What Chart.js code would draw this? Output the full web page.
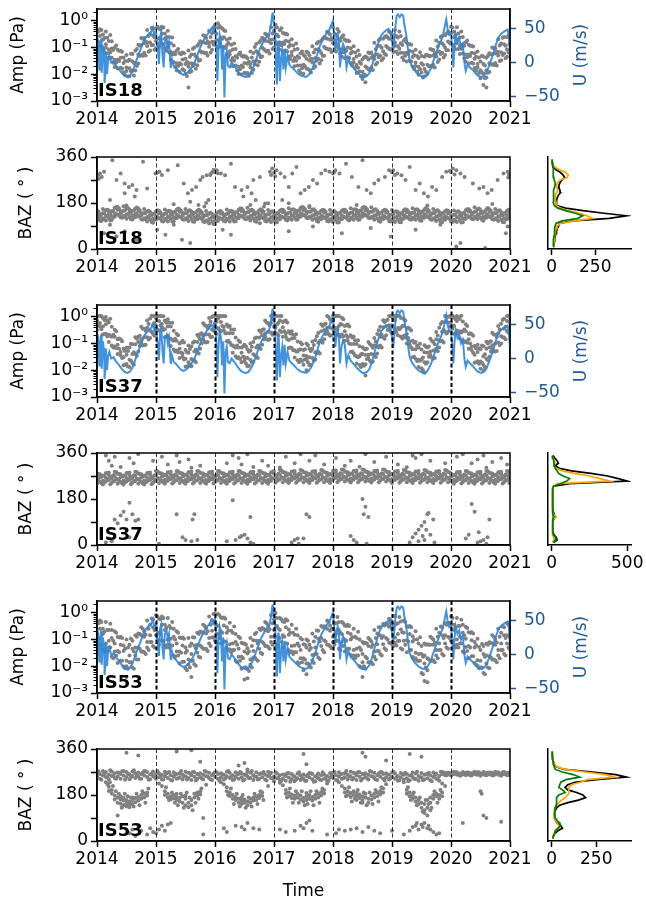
<!DOCTYPE html>
<html>
<head>
<meta charset="utf-8">
<script src="https://cdn.jsdelivr.net/npm/chart.js@4/dist/chart.umd.min.js"></script>
<style>
  body { margin: 0; background: #fff; width: 646px; height: 902px; position: relative; overflow: hidden; }
  canvas { position: absolute; }
</style>
</head>
<body>
<canvas id="amp18" width="646" height="140" style="left:0px;top:0px"></canvas>
<canvas id="baz18" width="646" height="140" style="left:0px;top:148px"></canvas>
<canvas id="side18" width="126" height="140" style="left:520px;top:148px"></canvas>
<canvas id="amp37" width="646" height="140" style="left:0px;top:296px"></canvas>
<canvas id="baz37" width="646" height="140" style="left:0px;top:444px"></canvas>
<canvas id="side37" width="126" height="140" style="left:520px;top:444px"></canvas>
<canvas id="amp53" width="646" height="140" style="left:0px;top:592px"></canvas>
<canvas id="baz53" width="646" height="162" style="left:0px;top:740px"></canvas>
<canvas id="side53" width="126" height="140" style="left:520px;top:740px"></canvas>
<script>
// --- axis ticks / labels ---
const yearTicks = [0, 1, 2, 3, 4, 5, 6, 7];
const yearLabels = ['2014', '2015', '2016', '2017', '2018', '2019', '2020', '2021'];
const dashedYears = [1, 2, 3, 4, 5, 6];
const ampTicks = [0.001, 0.01, 0.1, 1];
const ampTickLabels = ['10⁻³', '10⁻²', '10⁻¹', '10⁰'];
const ampMinorTicks = [0.002, 0.003, 0.004, 0.005, 0.006, 0.007, 0.008, 0.009, 0.02, 0.03, 0.04, 0.05, 0.06, 0.07, 0.08, 0.09,
  0.2, 0.3, 0.4, 0.5, 0.6, 0.7, 0.8, 0.9, 2];
const uTicks = [-50, 0, 50];
const bazTicks = [0, 90, 180, 270, 360];
const bazTickLabels = ['0', '', '180', '', '360'];
const stations = ['IS18', 'IS37', 'IS53'];

// --- zonal wind U (m/s), [years since 2014, U] ---
const uWind = [
  [0.00,38],[0.02,30],[0.04,-10],[0.05,20],[0.07,35],[0.08,-15],[0.10,25],[0.12,10],[0.13,-30],[0.15,15],[0.17,-17],[0.19,5],[0.21,10],[0.24,0],[0.28,2],[0.32,-4],[0.36,-8],[0.40,-13],[0.44,-17],[0.48,-20],[0.52,-21],[0.56,-19],[0.60,-13],[0.64,-4],[0.68,6],[0.72,15],[0.76,24],[0.80,33],[0.84,38],[0.88,42],[0.92,45],[0.95,51],[0.97,40],
  [1.00,45],[1.03,20],[1.05,-2],[1.07,38],[1.09,44],[1.11,10],[1.13,-7],[1.15,30],[1.18,35],[1.20,22],[1.22,30],[1.25,-8],[1.27,5],[1.30,-5],[1.34,-8],[1.38,-12],[1.42,-16],[1.46,-18],[1.50,-17],[1.54,-14],[1.58,-10],[1.62,-5],[1.66,2],[1.70,10],[1.74,20],[1.78,28],[1.82,35],[1.86,40],[1.90,44],[1.94,50],[1.97,45],
  [2.00,52],[2.02,30],[2.04,-27],[2.06,20],[2.08,40],[2.10,32],[2.12,-10],[2.14,25],[2.16,-51],[2.18,10],[2.20,17],[2.22,-5],[2.25,-7],[2.28,0],[2.32,-4],[2.36,-9],[2.40,-14],[2.44,-18],[2.48,-20],[2.52,-21],[2.56,-20],[2.60,-15],[2.64,-9],[2.68,0],[2.72,10],[2.76,20],[2.80,27],[2.84,33],[2.88,38],[2.92,42],[2.95,55],[2.97,70],[2.98,73],
  [3.00,55],[3.02,46],[3.04,-20],[3.05,-32],[3.07,30],[3.08,32],[3.10,-27],[3.12,5],[3.14,17],[3.16,-10],[3.18,20],[3.20,-7],[3.23,10],[3.26,-3],[3.30,-7],[3.34,-10],[3.38,-14],[3.42,-17],[3.46,-19],[3.50,-20],[3.54,-21],[3.58,-19],[3.62,-14],[3.66,-7],[3.70,2],[3.74,14],[3.78,25],[3.82,32],[3.86,38],[3.90,44],[3.94,48],[3.97,55],
  [4.00,61],[4.02,40],[4.04,17],[4.06,35],[4.08,41],[4.10,30],[4.12,-7],[4.14,15],[4.17,27],[4.20,20],[4.23,-7],[4.26,5],[4.30,-3],[4.34,-7],[4.38,-11],[4.42,-15],[4.46,-18],[4.50,-21],[4.54,-21],[4.58,-19],[4.62,-15],[4.66,-5],[4.70,8],[4.74,20],[4.78,32],[4.82,40],[4.86,44],[4.90,47],[4.94,49],[4.97,45],
  [5.00,32],[5.02,15],[5.04,35],[5.06,55],[5.08,68],[5.10,70],[5.13,66],[5.16,70],[5.19,68],[5.21,55],[5.24,41],[5.27,20],[5.30,2],[5.34,-6],[5.38,-11],[5.42,-15],[5.46,-18],[5.50,-20],[5.54,-21],[5.58,-20],[5.62,-15],[5.66,-8],[5.70,2],[5.74,12],[5.78,22],[5.82,30],[5.86,38],[5.90,55],[5.92,63],[5.94,50],[5.97,40],
  [6.00,41],[6.02,20],[6.04,-7],[6.06,25],[6.08,41],[6.11,30],[6.14,35],[6.17,22],[6.20,27],[6.23,-2],[6.25,-12],[6.28,-3],[6.32,-7],[6.36,-10],[6.40,-14],[6.44,-18],[6.48,-20],[6.52,-21],[6.56,-19],[6.60,-15],[6.64,-6],[6.68,4],[6.72,14],[6.76,26],[6.80,36],[6.84,41],[6.88,44],[6.92,46],[6.96,48],[6.98,40],[7.00,15]
];

// --- amplitudes, [years since 2014, log10(Pa) ...] ---
const amp18Log = [
  [0.00,-0.38,-0.75,-1.08],[0.05,-0.58,-0.95,-0.32],[0.10,-1.07,-0.72,-0.52],[0.15,-0.41,-1.01,-0.88],[0.20,-1.38,-0.76,-1.08],[0.25,-1.04,-0.77,-1.39],[0.30,-1.46,-1.00,-1.73],[0.35,-1.09,-1.46,-1.79],[0.40,-1.39,-1.76,-1.13],[0.45,-1.93,-1.58,-1.38],[0.50,-1.28,-1.88,-1.75],[0.55,-2.08,-1.46,-1.78],[0.60,-1.52,-1.25,-1.87],[0.65,-1.59,-1.13,-1.86],[0.70,-0.90,-1.27,-1.60],[0.75,-0.91,-1.28,-0.65],[0.80,-1.20,-0.85,-0.65],[0.85,-0.35,-0.95,-0.82],[0.90,-1.12,-0.50,-0.82],[0.95,-0.56,-0.29,-0.91],
  [1.00,-0.76,-0.30,-1.03],[1.05,-0.29,-0.66,-0.99],[1.10,-0.49,-0.86,-0.23],[1.15,-1.03,-0.68,-0.48],[1.20,-0.38,-0.98,-0.85],[1.25,-1.47,-0.85,-1.17],[1.30,-1.20,-0.93,-1.55],[1.35,-1.59,-1.13,-1.86],[1.40,-1.22,-1.59,-1.92],[1.45,-1.45,-1.82,-1.19],[1.50,-1.97,-1.62,-1.42],[1.55,-1.12,-1.72,-1.59,-2.50],[1.60,-1.89,-1.27,-1.59],[1.65,-1.27,-1.00,-1.62],[1.70,-1.40,-0.94,-1.67],[1.75,-0.77,-1.14,-1.47],[1.80,-0.81,-1.18,-0.55],[1.85,-1.20,-0.85,-0.65],[1.90,-0.38,-0.98,-0.85],[1.95,-1.09,-0.47,-0.79],
  [2.00,-0.43,-0.16,-0.78],[2.05,-0.73,-0.27,-1.00,-0.10],[2.10,-0.26,-0.63,-0.96],[2.15,-0.62,-0.99,-0.36],[2.20,-1.26,-0.91,-0.71],[2.25,-0.67,-1.27,-1.14],[2.30,-1.70,-1.08,-1.40],[2.35,-1.33,-1.06,-1.68],[2.40,-1.72,-1.26,-1.99],[2.45,-1.31,-1.68,-2.01],[2.50,-1.58,-1.95,-1.32],[2.55,-1.96,-1.61,-1.41],[2.60,-1.15,-1.75,-1.62],[2.65,-1.83,-1.21,-1.53],[2.70,-1.14,-0.87,-1.49],[2.75,-1.27,-0.81,-1.54],[2.80,-0.64,-1.01,-1.34],[2.85,-0.75,-1.12,-0.49],[2.90,-1.13,-0.78,-0.58],[2.95,-0.25,-0.85,-0.72],
  [3.00,-1.00,-0.38,-0.70],[3.05,-0.53,-0.26,-0.88],[3.10,-0.82,-0.36,-1.09],[3.15,-0.45,-0.82,-1.15],[3.20,-0.75,-1.12,-0.49],[3.25,-1.33,-0.98,-0.78],[3.30,-0.70,-1.30,-1.17],[3.35,-1.70,-1.08,-1.40],[3.40,-1.33,-1.06,-1.68],[3.45,-1.68,-1.22,-1.95],[3.50,-1.28,-1.65,-1.98],[3.55,-1.42,-1.79,-1.16],[3.60,-1.84,-1.49,-1.29],[3.65,-0.96,-1.56,-1.43],[3.70,-1.70,-1.08,-1.40],[3.75,-1.07,-0.80,-1.42],[3.80,-1.21,-0.75,-1.48],[3.85,-0.61,-0.98,-1.31],[3.90,-0.68,-1.05,-0.42],[3.95,-1.07,-0.72,-0.52],
  [4.00,-0.25,-0.85,-0.72],[4.05,-1.15,-0.53,-0.85],[4.10,-0.69,-0.42,-1.04],[4.15,-1.08,-0.62,-1.35],[4.20,-0.71,-1.08,-1.41],[4.25,-1.00,-1.37,-0.74],[4.30,-1.58,-1.23,-1.03],[4.35,-0.96,-1.56,-1.43],[4.40,-1.96,-1.34,-1.66],[4.45,-1.55,-1.28,-1.90],[4.50,-1.91,-1.45,-2.18],[4.55,-1.34,-1.71,-2.04,-2.30],[4.60,-1.45,-1.82,-1.19],[4.65,-1.74,-1.39,-1.19],[4.70,-0.83,-1.43,-1.30],[4.75,-1.57,-0.95,-1.27],[4.80,-0.95,-0.68,-1.30],[4.85,-1.14,-0.68,-1.41],[4.90,-0.58,-0.95,-1.28],[4.95,-0.68,-1.05,-0.42],
  [5.00,-1.07,-0.72,-0.52],[5.05,-0.35,-0.95,-0.82],[5.10,-1.25,-0.63,-0.95],[5.15,-0.85,-0.58,-1.20],[5.20,-1.21,-0.75,-1.48],[5.25,-0.83,-1.20,-1.53],[5.30,-1.13,-1.50,-0.87],[5.35,-1.71,-1.36,-1.16],[5.40,-1.09,-1.69,-1.56],[5.45,-2.02,-1.40,-1.72],[5.50,-1.59,-1.32,-1.94],[5.55,-1.81,-1.35,-2.08],[5.60,-1.28,-1.65,-1.98],[5.65,-1.32,-1.69,-1.06],[5.70,-1.65,-1.30,-1.10],[5.75,-0.74,-1.34,-1.21],[5.80,-1.45,-0.83,-1.15],[5.85,-0.85,-0.58,-1.20],[5.90,-1.01,-0.55,-1.28],[5.95,-0.41,-0.78,-1.11],
  [6.00,-0.49,-0.86,-0.23],[6.05,-0.97,-0.62,-0.42],[6.10,-0.25,-0.85,-0.72],[6.15,-1.25,-0.63,-0.95],[6.20,-0.88,-0.61,-1.23],[6.25,-1.27,-0.81,-1.54],[6.30,-0.90,-1.27,-1.60],[6.35,-1.20,-1.57,-0.94],[6.40,-1.77,-1.42,-1.22],[6.45,-1.15,-1.75,-1.62],[6.50,-2.15,-1.53,-1.85],[6.55,-1.62,-1.35,-1.97,-2.40],[6.60,-1.85,-1.39,-2.12,-2.50],[6.65,-1.22,-1.59,-1.92],[6.70,-1.26,-1.63,-1.00],[6.75,-1.58,-1.23,-1.03],[6.80,-0.70,-1.30,-1.17],[6.85,-1.48,-0.86,-1.18],[6.90,-0.88,-0.61,-1.23],[6.95,-1.08,-0.62,-1.35],[6.99,-0.51,-0.88,-1.21]
];
const amp18LogHalf = [
  [0.025,-0.80,-0.42],[0.075,-0.35,-0.98],[0.125,-1.17,-0.65],[0.175,-0.64,-1.22],[0.225,-1.18,-0.54],[0.275,-1.10,-1.57],[0.325,-1.56,-0.93],[0.375,-1.51,-1.13],[0.425,-1.16,-1.79],[0.475,-2.03,-1.51],[0.525,-1.51,-2.09],[0.575,-1.88,-1.24],[0.625,-1.58,-2.05],[0.675,-1.69,-1.06],[0.725,-1.32,-0.94],[0.775,-0.68,-1.31],[0.825,-1.30,-0.78],[0.875,-0.58,-1.16],[0.925,-0.92,-0.28],[0.975,-0.62,-1.09],
  [1.025,-0.86,-0.23],[1.075,-0.71,-0.33],[1.125,-0.26,-0.89],[1.175,-1.13,-0.61],[1.225,-0.61,-1.19],[1.275,-1.27,-0.63],[1.325,-1.26,-1.73],[1.375,-1.69,-1.06],[1.425,-1.64,-1.26],[1.475,-1.22,-1.85],[1.525,-2.07,-1.55],[1.575,-1.35,-1.93],[1.625,-1.69,-1.05],[1.675,-1.33,-1.80],[1.725,-1.50,-0.87],[1.775,-1.19,-0.81],[1.825,-0.58,-1.21],[1.875,-1.30,-0.78],[1.925,-0.61,-1.19],[1.975,-0.89,-0.25],
  [2.025,-0.49,-0.96],[2.075,-0.83,-0.20],[2.125,-0.68,-0.30],[2.175,-0.39,-1.02],[2.225,-1.36,-0.84],[2.275,-0.90,-1.48],[2.325,-1.50,-0.86],[2.375,-1.39,-1.86],[2.425,-1.82,-1.19],[2.475,-1.73,-1.35],[2.525,-1.35,-1.98],[2.575,-2.06,-1.54],[2.625,-1.38,-1.96],[2.675,-1.63,-0.99],[2.725,-1.20,-1.67],[2.775,-1.37,-0.74],[2.825,-1.06,-0.68],[2.875,-0.52,-1.15],[2.925,-1.23,-0.71],[2.975,-0.48,-1.06],
  [3.025,-0.80,-0.16],[3.075,-0.59,-1.06],[3.125,-0.92,-0.29],[3.175,-0.87,-0.49],[3.225,-0.52,-1.15],[3.275,-1.43,-0.91],[3.325,-0.93,-1.51],[3.375,-1.50,-0.86],[3.425,-1.39,-1.86],[3.475,-1.78,-1.15],[3.525,-1.70,-1.32],[3.575,-1.19,-1.82],[3.625,-1.94,-1.42],[3.675,-1.19,-1.77],[3.725,-1.50,-0.86],[3.775,-1.13,-1.60],[3.825,-1.31,-0.68],[3.875,-1.03,-0.65],[3.925,-0.45,-1.08],[3.975,-1.17,-0.65],
  [4.025,-0.48,-1.06],[4.075,-0.95,-0.31],[4.125,-0.75,-1.22],[4.175,-1.18,-0.55],[4.225,-1.13,-0.75],[4.275,-0.77,-1.40],[4.325,-1.68,-1.16],[4.375,-1.19,-1.77],[4.425,-1.76,-1.12],[4.475,-1.61,-2.08],[4.525,-2.01,-1.38],[4.575,-1.76,-1.38],[4.625,-1.22,-1.85],[4.675,-1.84,-1.32],[4.725,-1.06,-1.64],[4.775,-1.37,-0.73],[4.825,-1.01,-1.48],[4.875,-1.24,-0.61],[4.925,-1.00,-0.62],[4.975,-0.45,-1.08],
  [5.025,-1.17,-0.65],[5.075,-0.58,-1.16],[5.125,-1.05,-0.41],[5.175,-0.91,-1.38],[5.225,-1.31,-0.68],[5.275,-1.25,-0.87],[5.325,-0.90,-1.53],[5.375,-1.81,-1.29],[5.425,-1.32,-1.90],[5.475,-1.82,-1.18],[5.525,-1.65,-2.12],[5.575,-1.91,-1.28],[5.625,-1.70,-1.32],[5.675,-1.09,-1.72],[5.725,-1.75,-1.23],[5.775,-0.97,-1.55],[5.825,-1.25,-0.61],[5.875,-0.91,-1.38],[5.925,-1.11,-0.48],[5.975,-0.83,-0.45],
  [6.025,-0.26,-0.89],[6.075,-1.07,-0.55],[6.125,-0.48,-1.06],[6.175,-1.05,-0.41],[6.225,-0.94,-1.41],[6.275,-1.37,-0.74],[6.325,-1.32,-0.94],[6.375,-0.97,-1.60],[6.425,-1.87,-1.35],[6.475,-1.38,-1.96],[6.525,-1.95,-1.31],[6.575,-1.68,-2.15],[6.625,-1.95,-1.32],[6.675,-1.64,-1.26],[6.725,-1.03,-1.66],[6.775,-1.68,-1.16],[6.825,-0.93,-1.51],[6.875,-1.28,-0.64],[6.925,-0.94,-1.41],[6.975,-1.18,-0.55]
];
const amp37Log = [
  [0.00,-0.50,-0.15,0.03],[0.05,0.02,-0.37,-0.24],[0.10,-0.67,-0.05,-0.37],[0.15,-0.29,-0.02,-0.64],[0.20,-0.68,-0.22,-0.95],[0.25,-0.38,-0.75,-1.08],[0.30,-0.75,-1.12,-0.49],[0.35,-1.40,-1.05,-0.85],[0.40,-0.85,-1.45,-1.32],[0.45,-1.82,-1.20,-1.52],[0.50,-1.42,-1.15,-1.77],[0.55,-1.61,-1.15,-1.88],[0.60,-1.03,-1.40,-1.73],[0.65,-1.03,-1.40,-0.77],[0.70,-1.30,-0.95,-0.75],[0.75,-0.38,-0.98,-0.85],[0.80,-1.07,-0.45,-0.77],[0.85,-0.42,-0.15,-0.77],[0.90,-0.53,-0.07,-0.80],[0.95,0.02,-0.32,-0.65],
  [1.00,-0.05,-0.42,0.03],[1.05,-0.52,-0.17,0.02],[1.10,0.01,-0.40,-0.27],[1.15,-0.77,-0.15,-0.47],[1.20,-0.37,-0.10,-0.72],[1.25,-0.83,-0.37,-1.10],[1.30,-0.53,-0.90,-1.23],[1.35,-0.90,-1.27,-0.64],[1.40,-1.55,-1.20,-1.00],[1.45,-0.90,-1.50,-1.37],[1.50,-1.87,-1.25,-1.57],[1.55,-1.35,-1.08,-1.70],[1.60,-1.58,-1.12,-1.85],[1.65,-0.93,-1.30,-1.63],[1.70,-0.95,-1.32,-0.69],[1.75,-1.20,-0.85,-0.65],[1.80,-0.25,-0.85,-0.72],[1.85,-0.97,-0.35,-0.67],[1.90,-0.32,-0.05,-0.67],[1.95,-0.48,-0.02,-0.75],
  [2.00,0.03,-0.25,-0.58],[2.05,-0.07,-0.44,0.02],[2.10,-0.55,-0.20,0.00],[2.15,0.02,-0.52,-0.39],[2.20,-0.92,-0.30,-0.62],[2.25,-0.62,-0.35,-0.97],[2.30,-1.08,-0.62,-1.35],[2.35,-0.78,-1.15,-1.48],[2.40,-1.15,-1.52,-0.89],[2.45,-1.70,-1.35,-1.15],[2.50,-1.05,-1.65,-1.52],[2.55,-1.85,-1.23,-1.55],[2.60,-1.27,-1.00,-1.62],[2.65,-1.41,-0.95,-1.68],[2.70,-0.78,-1.15,-1.48],[2.75,-0.78,-1.15,-0.52],[2.80,-1.05,-0.70,-0.50],[2.85,-0.15,-0.75,-0.62],[2.90,-0.87,-0.25,-0.57],[2.95,-0.24,0.02,-0.59],
  [3.00,-0.38,0.03,-0.65],[3.05,0.02,-0.30,-0.63],[3.10,-0.15,-0.52,0.02],[3.15,-0.75,-0.40,-0.20],[3.20,-0.15,-0.75,-0.62],[3.25,-1.17,-0.55,-0.87],[3.30,-0.82,-0.55,-1.17],[3.35,-1.26,-0.80,-1.53],[3.40,-0.93,-1.30,-1.63],[3.45,-1.23,-1.60,-0.97],[3.50,-1.80,-1.45,-1.25],[3.55,-1.00,-1.60,-1.47,-2.00],[3.60,-1.82,-1.20,-1.52],[3.65,-1.20,-0.93,-1.55],[3.70,-1.33,-0.87,-1.60],[3.75,-0.61,-0.98,-1.31],[3.80,-0.55,-0.92,-0.29],[3.85,-0.85,-0.50,-0.30],[3.90,0.02,-0.55,-0.42],[3.95,-0.72,-0.10,-0.42],
  [4.00,-0.12,0.03,-0.47],[4.05,-0.43,0.02,-0.70],[4.10,0.02,-0.35,-0.68],[4.15,-0.30,-0.67,-0.04],[4.20,-0.90,-0.55,-0.35],[4.25,-0.30,-0.90,-0.77],[4.30,-1.32,-0.70,-1.02],[4.35,-1.02,-0.75,-1.37],[4.40,-1.48,-1.02,-1.75],[4.45,-1.11,-1.48,-1.81],[4.50,-1.40,-1.77,-1.14],[4.55,-1.78,-1.43,-1.23,-2.20],[4.60,-0.95,-1.55,-1.42],[4.65,-1.70,-1.08,-1.40],[4.70,-1.07,-0.80,-1.42],[4.75,-1.11,-0.65,-1.38],[4.80,-0.38,-0.75,-1.08],[4.85,-0.40,-0.77,-0.14],[4.90,-0.70,-0.35,-0.15],[4.95,0.02,-0.45,-0.32],
  [5.00,-0.62,0.00,-0.32],[5.05,-0.14,0.03,-0.49],[5.10,-0.43,0.03,-0.70],[5.15,-0.05,-0.42,-0.75],[5.20,-0.35,-0.72,-0.09],[5.25,-1.00,-0.65,-0.45],[5.30,-0.45,-1.05,-0.92],[5.35,-1.52,-0.90,-1.22],[5.40,-1.22,-0.95,-1.57],[5.45,-1.61,-1.15,-1.88],[5.50,-1.23,-1.60,-1.93],[5.55,-1.33,-1.70,-1.07,-2.10],[5.60,-1.70,-1.35,-1.15],[5.65,-0.83,-1.43,-1.30],[5.70,-1.57,-0.95,-1.27],[5.75,-0.85,-0.58,-1.20],[5.80,-0.88,-0.42,-1.15],[5.85,-0.20,-0.57,-0.90],[5.90,-0.20,-0.57,0.02],[5.95,-0.57,-0.22,-0.02],
  [6.00,0.03,-0.35,-0.22],[6.05,-0.64,-0.02,-0.34],[6.10,-0.17,0.02,-0.52],[6.15,-0.55,-0.09,-0.82],[6.20,-0.18,-0.55,-0.88],[6.25,-0.55,-0.92,-0.29],[6.30,-1.20,-0.85,-0.65],[6.35,-0.65,-1.25,-1.12],[6.40,-1.72,-1.10,-1.42],[6.45,-1.32,-1.05,-1.67],[6.50,-1.68,-1.22,-1.95],[6.55,-1.11,-1.48,-1.81,-2.00],[6.60,-1.20,-1.57,-0.94],[6.65,-1.50,-1.15,-0.95],[6.70,-0.60,-1.20,-1.07],[6.75,-1.30,-0.68,-1.00],[6.80,-0.62,-0.35,-0.97],[6.85,-0.73,-0.27,-1.00],[6.90,-0.08,-0.45,-0.78],[6.95,-0.17,-0.54,0.02],[6.99,-0.55,-0.20,-0.02]
];
const amp37LogHalf = [
  [0.025,-0.30,0.03],[0.075,0.02,-0.47],[0.125,-0.65,-0.13],[0.175,-0.15,-0.73],[0.225,-0.72,-0.08],[0.275,-0.68,-1.15],[0.325,-1.18,-0.55],[0.375,-1.20,-0.82],[0.425,-0.92,-1.55],[0.475,-1.80,-1.28],[0.525,-1.28,-1.86],[0.575,-1.65,-1.01],[0.625,-1.33,-1.80],[0.675,-1.46,-0.83],[0.725,-1.10,-0.72],[0.775,-0.45,-1.08],[0.825,-1.05,-0.53],[0.875,-0.28,-0.86],[0.925,-0.57,0.03],[0.975,-0.25,-0.72],
  [1.025,-0.48,0.02],[1.075,-0.32,0.03],[1.125,0.01,-0.50],[1.175,-0.75,-0.23],[1.225,-0.23,-0.81],[1.275,-0.87,-0.23],[1.325,-0.83,-1.30],[1.375,-1.33,-0.70],[1.425,-1.35,-0.97],[1.475,-0.97,-1.60],[1.525,-1.85,-1.33],[1.575,-1.21,-1.79],[1.625,-1.62,-0.98],[1.675,-1.23,-1.70],[1.725,-1.38,-0.75],[1.775,-1.00,-0.62],[1.825,-0.32,-0.95],[1.875,-0.95,-0.43],[1.925,-0.18,-0.76],[1.975,-0.52,0.03],
  [2.025,-0.18,-0.65],[2.075,-0.50,0.02],[2.125,-0.35,0.02],[2.175,0.01,-0.62],[2.225,-0.90,-0.38],[2.275,-0.48,-1.06],[2.325,-1.12,-0.48],[2.375,-1.08,-1.55],[2.425,-1.58,-0.95],[2.475,-1.50,-1.12],[2.525,-1.12,-1.75],[2.575,-1.83,-1.31],[2.625,-1.13,-1.71],[2.675,-1.45,-0.81],[2.725,-1.08,-1.55],[2.775,-1.21,-0.58],[2.825,-0.85,-0.47],[2.875,-0.22,-0.85],[2.925,-0.85,-0.33],[2.975,-0.10,-0.68],
  [3.025,-0.42,0.03],[3.075,-0.23,-0.70],[3.125,-0.58,0.02],[3.175,-0.55,-0.17],[3.225,-0.22,-0.85],[3.275,-1.15,-0.63],[3.325,-0.68,-1.26],[3.375,-1.30,-0.66],[3.425,-1.23,-1.70],[3.475,-1.66,-1.03],[3.525,-1.60,-1.22],[3.575,-1.07,-1.70],[3.625,-1.80,-1.28],[3.675,-1.06,-1.64],[3.725,-1.37,-0.73],[3.775,-0.91,-1.38],[3.825,-0.98,-0.35],[3.875,-0.65,-0.27],[3.925,-0.02,-0.65],[3.975,-0.70,-0.18],
  [4.025,0.02,-0.56],[4.075,-0.47,0.03],[4.125,-0.28,-0.75],[4.175,-0.73,-0.10],[4.225,-0.70,-0.32],[4.275,-0.37,-1.00],[4.325,-1.30,-0.78],[4.375,-0.88,-1.46],[4.425,-1.52,-0.88],[4.475,-1.41,-1.88],[4.525,-1.83,-1.20],[4.575,-1.58,-1.20],[4.625,-1.02,-1.65],[4.675,-1.68,-1.16],[4.725,-0.93,-1.51],[4.775,-1.15,-0.51],[4.825,-0.68,-1.15],[4.875,-0.83,-0.20],[4.925,-0.50,-0.12],[4.975,0.03,-0.55],
  [5.025,-0.60,-0.08],[5.075,0.00,-0.58],[5.125,-0.47,0.02],[5.175,-0.35,-0.82],[5.225,-0.78,-0.15],[5.275,-0.80,-0.42],[5.325,-0.52,-1.15],[5.375,-1.50,-0.98],[5.425,-1.08,-1.66],[5.475,-1.65,-1.01],[5.525,-1.53,-2.00],[5.575,-1.76,-1.13],[5.625,-1.50,-1.12],[5.675,-0.90,-1.53],[5.725,-1.55,-1.03],[5.775,-0.71,-1.29],[5.825,-0.92,-0.28],[5.875,-0.50,-0.97],[5.925,-0.63,0.00],[5.975,-0.37,0.01],
  [6.025,0.03,-0.45],[6.075,-0.62,-0.10],[6.125,-0.03,-0.61],[6.175,-0.59,0.03],[6.225,-0.48,-0.95],[6.275,-0.98,-0.35],[6.325,-1.00,-0.62],[6.375,-0.72,-1.35],[6.425,-1.70,-1.18],[6.475,-1.18,-1.76],[6.525,-1.72,-1.08],[6.575,-1.41,-1.88],[6.625,-1.63,-1.00],[6.675,-1.30,-0.92],[6.725,-0.67,-1.30],[6.775,-1.28,-0.76],[6.825,-0.48,-1.06],[6.875,-0.77,-0.13],[6.925,-0.38,-0.85],[6.975,-0.60,0.03]
];
const amp53Log = [
  [0.00,-0.38,-0.90,-1.35],[0.05,-1.20,-0.60,-0.30],[0.10,-0.80,-1.38,-0.60],[0.15,-1.15,-0.35,-1.35],[0.20,-0.65,-1.30,-1.05],[0.25,-1.65,-0.95,-0.65],[0.30,-1.15,-1.45,-0.70],[0.35,-0.91,-1.43,-1.88],[0.40,-1.80,-1.20,-0.90],[0.45,-1.43,-2.01,-1.23],[0.50,-1.80,-1.00,-2.00,-2.40],[0.55,-1.20,-1.85,-1.60],[0.60,-2.05,-1.35,-1.05],[0.65,-1.30,-1.60,-0.85],[0.70,-0.78,-1.30,-1.75],[0.75,-1.45,-0.85,-0.55],[0.80,-0.90,-1.48,-0.70],[0.85,-1.10,-0.30,-1.30],[0.90,-0.45,-1.10,-0.85],[0.95,-1.25,-0.55,-0.25],
  [1.00,-0.55,-0.85,-0.10],[1.05,-0.23,-0.75,-1.20],[1.10,-1.05,-0.45,-0.15],[1.15,-0.65,-1.23,-0.45],[1.20,-1.00,-0.20,-1.20],[1.25,-0.58,-1.23,-0.98],[1.30,-1.60,-0.90,-0.60],[1.35,-1.15,-1.45,-0.70],[1.40,-0.93,-1.45,-1.90],[1.45,-1.83,-1.23,-0.93],[1.50,-1.50,-2.08,-1.30],[1.55,-1.75,-0.95,-1.95],[1.60,-1.15,-1.80,-1.55,-2.40],[1.65,-1.93,-1.23,-0.93],[1.70,-1.20,-1.50,-0.75],[1.75,-0.71,-1.23,-1.68],[1.80,-1.35,-0.75,-0.45],[1.85,-0.78,-1.36,-0.58],[1.90,-0.95,-0.15,-1.15],[1.95,-0.28,-0.93,-0.68],
  [2.00,-1.05,-0.35,-0.05],[2.05,-0.50,-0.80,-0.05],[2.10,-0.18,-0.70,-1.15],[2.15,-1.08,-0.48,-0.18],[2.20,-0.75,-1.33,-0.55],[2.25,-1.18,-0.38,-1.38],[2.30,-0.75,-1.40,-1.15],[2.35,-1.80,-1.10,-0.80],[2.40,-1.35,-1.65,-0.90],[2.45,-1.13,-1.65,-2.10],[2.50,-2.05,-1.45,-1.15,-2.50],[2.55,-1.53,-2.11,-1.33,-2.45],[2.60,-1.75,-0.95,-1.95],[2.65,-1.03,-1.68,-1.43],[2.70,-1.75,-1.05,-0.75],[2.75,-1.05,-1.35,-0.60],[2.80,-0.58,-1.10,-1.55],[2.85,-1.25,-0.65,-0.35],[2.90,-0.70,-1.28,-0.50],[2.95,-0.90,-0.10,-1.10],
  [3.00,-0.25,-0.90,-0.65],[3.05,-1.20,-0.50,-0.20],[3.10,-0.65,-0.95,-0.20],[3.15,-0.33,-0.85,-1.30],[3.20,-1.15,-0.55,-0.25],[3.25,-0.83,-1.41,-0.63],[3.30,-1.25,-0.45,-1.45],[3.35,-0.83,-1.48,-1.23],[3.40,-1.85,-1.15,-0.85],[3.45,-1.40,-1.70,-0.95],[3.50,-1.18,-1.70,-2.15],[3.55,-1.90,-1.30,-1.00,-2.30],[3.60,-1.40,-1.98,-1.20],[3.65,-1.58,-0.78,-1.78],[3.70,-0.90,-1.55,-1.30],[3.75,-1.68,-0.98,-0.68],[3.80,-0.95,-1.25,-0.50],[3.85,-0.51,-1.03,-1.48],[3.90,-1.20,-0.60,-0.30],[3.95,-0.68,-1.26,-0.48],
  [4.00,-0.90,-0.10,-1.10],[4.05,-0.40,-1.05,-0.80],[4.10,-1.35,-0.65,-0.35],[4.15,-0.80,-1.10,-0.35],[4.20,-0.48,-1.00,-1.45],[4.25,-1.35,-0.75,-0.45],[4.30,-1.00,-1.58,-0.80],[4.35,-1.40,-0.60,-1.60],[4.40,-0.95,-1.60,-1.35],[4.45,-2.00,-1.30,-1.00],[4.50,-1.55,-1.85,-1.10,-2.40],[4.55,-1.13,-1.65,-2.10],[4.60,-1.85,-1.25,-0.95],[4.65,-1.28,-1.86,-1.08],[4.70,-1.45,-0.65,-1.65],[4.75,-0.78,-1.43,-1.18],[4.80,-1.55,-0.85,-0.55],[4.85,-0.88,-1.18,-0.43],[4.90,-0.43,-0.95,-1.40],[4.95,-1.13,-0.53,-0.23],
  [5.00,-0.60,-1.18,-0.40],[5.05,-0.93,-0.13,-1.13],[5.10,-0.40,-1.05,-0.80],[5.15,-1.33,-0.63,-0.33],[5.20,-0.75,-1.05,-0.30],[5.25,-0.51,-1.03,-1.48],[5.30,-1.40,-0.80,-0.50],[5.35,-1.08,-1.66,-0.88],[5.40,-1.50,-0.70,-1.70],[5.45,-1.15,-1.80,-1.55],[5.50,-2.25,-1.55,-1.25],[5.55,-1.60,-1.90,-1.15,-2.55],[5.60,-1.18,-1.70,-2.15,-2.60],[5.65,-1.80,-1.20,-0.90],[5.70,-1.20,-1.78,-1.00],[5.75,-1.40,-0.60,-1.60],[5.80,-0.75,-1.40,-1.15],[5.85,-1.55,-0.85,-0.55],[5.90,-0.85,-1.15,-0.40],[5.95,-0.38,-0.90,-1.35],
  [6.00,-1.05,-0.45,-0.15],[6.05,-0.65,-1.23,-0.45],[6.10,-1.00,-0.20,-1.20],[6.15,-0.50,-1.15,-0.90],[6.20,-1.45,-0.75,-0.45],[6.25,-0.98,-1.28,-0.53],[6.30,-0.73,-1.25,-1.70],[6.35,-1.63,-1.03,-0.73],[6.40,-1.30,-1.88,-1.10],[6.45,-1.78,-0.98,-1.98],[6.50,-1.40,-2.05,-1.80],[6.55,-2.25,-1.55,-1.25],[6.60,-1.60,-1.90,-1.15],[6.65,-1.11,-1.63,-2.08],[6.70,-1.75,-1.15,-0.85],[6.75,-1.20,-1.78,-1.00],[6.80,-1.40,-0.60,-1.60],[6.85,-0.75,-1.40,-1.15],[6.90,-1.55,-0.85,-0.55],[6.95,-0.85,-1.15,-0.40],[6.99,-0.38,-0.90,-1.35]
];
const amp53LogHalf = [
  [0.025,-0.95,-0.40],[0.075,-0.35,-1.20],[0.125,-1.45,-0.72],[0.175,-0.65,-1.45],[0.225,-1.30,-0.42],[0.275,-1.05,-1.70],[0.325,-1.60,-0.75],[0.375,-1.48,-0.93],[0.425,-0.95,-1.80],[0.475,-2.08,-1.35],[0.525,-1.30,-2.10],[0.575,-1.85,-0.97],[0.625,-1.45,-2.10],[0.675,-1.75,-0.90],[0.725,-1.35,-0.80],[0.775,-0.60,-1.45],[0.825,-1.55,-0.82],[0.875,-0.60,-1.40],[0.925,-1.10,-0.22],[0.975,-0.65,-1.30],
  [1.025,-1.00,-0.15],[1.075,-0.80,-0.25],[1.125,-0.20,-1.05],[1.175,-1.30,-0.57],[1.225,-0.50,-1.30],[1.275,-1.23,-0.35],[1.325,-1.00,-1.65],[1.375,-1.60,-0.75],[1.425,-1.50,-0.95],[1.475,-0.98,-1.83],[1.525,-2.15,-1.42],[1.575,-1.25,-2.05],[1.625,-1.80,-0.92],[1.675,-1.33,-1.98],[1.725,-1.65,-0.80],[1.775,-1.28,-0.73],[1.825,-0.50,-1.35],[1.875,-1.43,-0.70],[1.925,-0.45,-1.25],[1.975,-0.93,-0.05],
  [2.025,-0.45,-1.10],[2.075,-0.95,-0.10],[2.125,-0.75,-0.20],[2.175,-0.23,-1.08],[2.225,-1.40,-0.67],[2.275,-0.68,-1.48],[2.325,-1.40,-0.52],[2.375,-1.20,-1.85],[2.425,-1.80,-0.95],[2.475,-1.70,-1.15],[2.525,-1.20,-2.05],[2.575,-2.18,-1.45],[2.625,-1.25,-2.05],[2.675,-1.68,-0.80],[2.725,-1.15,-1.80],[2.775,-1.50,-0.65],[2.825,-1.15,-0.60],[2.875,-0.40,-1.25],[2.925,-1.35,-0.62],[2.975,-0.40,-1.20],
  [3.025,-0.90,-0.02],[3.075,-0.60,-1.25],[3.125,-1.10,-0.25],[3.175,-0.90,-0.35],[3.225,-0.30,-1.15],[3.275,-1.48,-0.75],[3.325,-0.75,-1.55],[3.375,-1.48,-0.60],[3.425,-1.25,-1.90],[3.475,-1.85,-1.00],[3.525,-1.75,-1.20],[3.575,-1.05,-1.90],[3.625,-2.05,-1.32],[3.675,-1.08,-1.88],[3.725,-1.55,-0.67],[3.775,-1.08,-1.73],[3.825,-1.40,-0.55],[3.875,-1.08,-0.53],[3.925,-0.35,-1.20],[3.975,-1.33,-0.60],
  [4.025,-0.40,-1.20],[4.075,-1.05,-0.17],[4.125,-0.75,-1.40],[4.175,-1.25,-0.40],[4.225,-1.05,-0.50],[4.275,-0.50,-1.35],[4.325,-1.65,-0.92],[4.375,-0.90,-1.70],[4.425,-1.60,-0.72],[4.475,-1.40,-2.05],[4.525,-2.00,-1.15],[4.575,-1.70,-1.15],[4.625,-1.00,-1.85],[4.675,-1.93,-1.20],[4.725,-0.95,-1.75],[4.775,-1.43,-0.55],[4.825,-0.95,-1.60],[4.875,-1.33,-0.48],[4.925,-1.00,-0.45],[4.975,-0.28,-1.13],
  [5.025,-1.25,-0.52],[5.075,-0.43,-1.23],[5.125,-1.05,-0.17],[5.175,-0.73,-1.38],[5.225,-1.20,-0.35],[5.275,-1.08,-0.53],[5.325,-0.55,-1.40],[5.375,-1.73,-1.00],[5.425,-1.00,-1.80],[5.475,-1.80,-0.92],[5.525,-1.65,-2.30],[5.575,-2.05,-1.20],[5.625,-1.75,-1.20],[5.675,-0.95,-1.80],[5.725,-1.85,-1.12],[5.775,-0.90,-1.70],[5.825,-1.40,-0.52],[5.875,-0.95,-1.60],[5.925,-1.30,-0.45],[5.975,-0.95,-0.40],
  [6.025,-0.20,-1.05],[6.075,-1.30,-0.57],[6.125,-0.50,-1.30],[6.175,-1.15,-0.27],[6.225,-0.85,-1.50],[6.275,-1.43,-0.58],[6.325,-1.30,-0.75],[6.375,-0.78,-1.63],[6.425,-1.95,-1.22],[6.475,-1.28,-2.08],[6.525,-2.05,-1.17],[6.575,-1.65,-2.30],[6.625,-2.05,-1.20],[6.675,-1.68,-1.13],[6.725,-0.90,-1.75],[6.775,-1.85,-1.12],[6.825,-0.90,-1.70],[6.875,-1.40,-0.52],[6.925,-0.95,-1.60],[6.975,-1.30,-0.45]
];

// --- back azimuths, [years since 2014, BAZ deg ...] ---
const baz18Band = [
  [0.00,142,122,152],[0.05,112,135,128],[0.10,157,120,140],[0.15,129,152,112],[0.20,139,121,151],[0.25,113,148,128],[0.30,160,140,126],[0.35,154,134,164],[0.40,124,147,140],[0.45,167,130,150],[0.50,135,158,118],[0.55,143,125,155],[0.60,115,150,130],[0.65,158,138,124],[0.70,148,128,158],[0.75,116,139,132],[0.80,157,120,140],[0.85,125,148,108],[0.90,133,115,145],[0.95,103,138,118],
  [1.00,148,128,114],[1.05,140,120,150],[1.10,110,133,126],[1.15,155,118,138],[1.20,125,148,108],[1.25,135,117,147],[1.30,109,144,124],[1.35,154,134,120],[1.40,146,126,156],[1.45,116,139,132],[1.50,157,120,140],[1.55,127,150,110],[1.60,135,117,147],[1.65,107,142,122],[1.70,150,130,116],[1.75,140,120,150],[1.80,108,131,124],[1.85,149,112,132],[1.90,117,140,100],[1.95,125,107,137],
  [2.00,97,132,112],[2.05,144,124,110],[2.10,138,118,148],[2.15,110,133,126],[2.20,155,118,138],[2.25,125,148,108],[2.30,135,117,147],[2.35,109,144,124],[2.40,154,134,120],[2.45,148,128,158],[2.50,118,141,134],[2.55,161,124,144],[2.60,129,152,112],[2.65,137,119,149],[2.70,107,142,122],[2.75,152,132,118],[2.80,142,122,152],[2.85,110,133,126],[2.90,153,116,136],[2.95,123,146,106],
  [3.00,131,113,143],[3.05,105,140,120],[3.10,150,130,116],[3.15,144,124,154],[3.20,114,137,130],[3.25,159,122,142],[3.30,131,154,114],[3.35,141,123,153],[3.40,115,150,130],[3.45,160,140,126],[3.50,152,132,162],[3.55,122,145,138],[3.60,163,126,146],[3.65,131,154,114],[3.70,137,119,149],[3.75,107,142,122],[3.80,150,130,116],[3.85,142,122,152],[3.90,110,133,126],[3.95,153,116,136],
  [4.00,123,146,106],[4.05,131,113,143],[4.10,105,140,120],[4.15,150,130,116],[4.20,144,124,154],[4.25,114,137,130],[4.30,159,122,142],[4.35,131,154,114],[4.40,141,123,153],[4.45,115,150,130],[4.50,160,140,126],[4.55,152,132,162],[4.60,122,145,138],[4.65,163,126,146],[4.70,131,154,114],[4.75,137,119,149],[4.80,107,142,122],[4.85,150,130,116],[4.90,142,122,152],[4.95,110,133,126],
  [5.00,153,116,136],[5.05,123,146,106],[5.10,133,115,145],[5.15,105,140,120],[5.20,152,132,118],[5.25,144,124,154],[5.30,116,139,132],[5.35,159,122,142],[5.40,131,154,114],[5.45,139,121,151],[5.50,111,146,126],[5.55,156,136,122],[5.60,146,126,156],[5.65,116,139,132],[5.70,157,120,140],[5.75,127,150,110],[5.80,133,115,145],[5.85,105,140,120],[5.90,148,128,114],[5.95,140,120,150],
  [6.00,108,131,124],[6.05,151,114,134],[6.10,123,146,106],[6.15,131,113,143],[6.20,105,140,120],[6.25,152,132,118],[6.30,146,126,156],[6.35,118,141,134],[6.40,163,126,146],[6.45,133,156,116],[6.50,141,123,153],[6.55,111,146,126],[6.60,156,136,122],[6.65,146,126,156],[6.70,116,139,132],[6.75,157,120,140],[6.80,127,150,110],[6.85,133,115,145],[6.90,105,140,120],[6.95,150,130,116],[6.99,142,122,152]
];
const baz18BandHalf = [
  [0.025,120,146],[0.075,136,110],[0.125,116,141],[0.175,154,130],[0.225,112,138],[0.275,149,125],[0.325,137,164],[0.375,132,158],[0.425,148,122],[0.475,126,151],[0.525,160,136],[0.575,116,142],[0.625,151,127],[0.675,135,162],[0.725,126,152],[0.775,140,114],[0.825,116,141],[0.875,150,126],[0.925,106,132],[0.975,139,115],
  [1.025,125,152],[1.075,118,144],[1.125,134,108],[1.175,114,139],[1.225,150,126],[1.275,108,134],[1.325,145,121],[1.375,131,158],[1.425,124,150],[1.475,140,114],[1.525,116,141],[1.575,152,128],[1.625,108,134],[1.675,143,119],[1.725,127,154],[1.775,118,144],[1.825,132,106],[1.875,108,133],[1.925,142,118],[1.975,98,124],
  [2.025,133,109],[2.075,121,148],[2.125,116,142],[2.175,134,108],[2.225,114,139],[2.275,150,126],[2.325,108,134],[2.375,145,121],[2.425,131,158],[2.475,126,152],[2.525,142,116],[2.575,120,145],[2.625,154,130],[2.675,110,136],[2.725,143,119],[2.775,129,156],[2.825,120,146],[2.875,134,108],[2.925,112,137],[2.975,148,124],
  [3.025,104,130],[3.075,141,117],[3.125,127,154],[3.175,122,148],[3.225,138,112],[3.275,118,143],[3.325,156,132],[3.375,114,140],[3.425,151,127],[3.475,137,164],[3.525,130,156],[3.575,146,120],[3.625,122,147],[3.675,156,132],[3.725,110,136],[3.775,143,119],[3.825,127,154],[3.875,120,146],[3.925,134,108],[3.975,112,137],
  [4.025,148,124],[4.075,104,130],[4.125,141,117],[4.175,127,154],[4.225,122,148],[4.275,138,112],[4.325,118,143],[4.375,156,132],[4.425,114,140],[4.475,151,127],[4.525,137,164],[4.575,130,156],[4.625,146,120],[4.675,122,147],[4.725,156,132],[4.775,110,136],[4.825,143,119],[4.875,127,154],[4.925,120,146],[4.975,134,108],
  [5.025,112,137],[5.075,148,124],[5.125,106,132],[5.175,141,117],[5.225,129,156],[5.275,122,148],[5.325,140,114],[5.375,118,143],[5.425,156,132],[5.475,112,138],[5.525,147,123],[5.575,133,160],[5.625,124,150],[5.675,140,114],[5.725,116,141],[5.775,152,128],[5.825,106,132],[5.875,141,117],[5.925,125,152],[5.975,118,144],
  [6.025,132,106],[6.075,110,135],[6.125,148,124],[6.175,104,130],[6.225,141,117],[6.275,129,156],[6.325,124,150],[6.375,142,116],[6.425,122,147],[6.475,158,134],[6.525,114,140],[6.575,147,123],[6.625,133,160],[6.675,124,150],[6.725,140,114],[6.775,116,141],[6.825,152,128],[6.875,106,132],[6.925,141,117],[6.975,127,154]
];
const baz18Other = [
  [0.02,290],[0.03,275],[0.05,295],[0.08,282],[0.12,302],[0.22,192],[0.26,347],[0.33,270],[0.40,295],[0.47,256],[0.47,218],[0.50,170],[0.54,243],[0.60,250],[0.64,205],[0.67,231],[0.78,341],[0.85,237],
  [0.99,295],[1.02,298],[1.06,302],[1.10,290],[1.20,308],[1.30,175],[1.37,328],[1.47,256],[1.54,218],[1.58,185],[1.61,231],[1.68,243],[1.72,172],[1.75,270],[1.79,282],[1.82,166],[1.85,180],[1.86,289],[1.89,192],[1.92,290],[1.93,295],[1.96,302],[1.98,310],
  [2.00,300],[2.03,308],[2.05,296],[2.10,295],[2.17,289],[2.27,334],[2.34,243],[2.45,231],[2.48,205],[2.55,243],[2.60,172],[2.62,218],[2.65,270],[2.69,192],[2.76,282],[2.83,166],[2.85,178],[2.90,179],[2.93,302],[2.95,290],[2.97,315],
  [3.00,298],[3.02,285],[3.04,308],[3.11,295],[3.14,192],[3.18,282],[3.25,243],[3.25,179],[3.31,295],[3.38,321],[3.45,218],[3.52,231],[3.59,243],[3.60,168],[3.66,270],[3.73,256],[3.80,295],[3.87,308],[3.94,302],
  [4.00,295],[4.02,300],[4.04,308],[4.11,295],[4.22,334],[4.32,282],[4.40,172],[4.43,243],[4.50,347],[4.57,231],[4.64,218],[4.70,256],[4.77,270],[4.88,282],[4.95,308],
  [5.00,300],[5.02,308],[5.05,290],[5.09,295],[5.16,289],[5.23,270],[5.30,321],[5.40,231],[5.47,256],[5.54,218],[5.60,170],[5.61,205],[5.68,243],[5.75,231],[5.85,282],[5.92,302],[5.98,305],
  [6.00,300],[6.03,315],[6.06,292],[6.09,308],[6.16,295],[6.23,282],[6.37,256],[6.48,237],[6.55,243],[6.62,218],[6.69,231],[6.70,176],[6.79,270],[6.89,295],[6.96,302],[6.97,280],[6.98,290],
  [0.12,62],[0.22,95],[0.33,49],[0.47,69],[0.67,36],[1.02,75],[1.16,56],[1.30,95],[1.44,36],[1.58,23],[2.13,75],[2.27,56],[2.76,101],[3.25,69],[3.66,88],[4.15,62],[4.64,82],[4.98,49],[5.40,75],[5.82,95],[6.09,10],[6.16,23],[6.58,4],[6.93,62],[6.96,88]
];
const baz37Band = [
  [0.00,257,280,240],[0.05,265,247,277],[0.10,237,272,252],[0.15,282,262,248],[0.20,274,254,284],[0.25,244,267,260],[0.30,287,250,270],[0.35,257,280,240],[0.40,265,247,277],[0.45,237,272,252],[0.50,282,262,248],[0.55,274,254,284],[0.60,244,267,260],[0.65,287,250,270],[0.70,257,280,240],[0.75,265,247,277],[0.80,237,272,252],[0.85,282,262,248],[0.90,274,254,284],[0.95,244,267,260],
  [1.00,290,253,273],[1.05,260,283,243],[1.10,268,250,280],[1.15,240,275,255],[1.20,285,265,251],[1.25,277,257,287],[1.30,247,270,263],[1.35,290,253,273],[1.40,260,283,243],[1.45,268,250,280],[1.50,240,275,255],[1.55,285,265,251],[1.60,277,257,287],[1.65,247,270,263],[1.70,290,253,273],[1.75,260,283,243],[1.80,268,250,280],[1.85,240,275,255],[1.90,285,265,251],[1.95,277,257,287],
  [2.00,247,270,263],[2.05,290,253,273],[2.10,260,283,243],[2.15,268,250,280],[2.20,240,275,255],[2.25,285,265,251],[2.30,277,257,287],[2.35,247,270,263],[2.40,290,253,273],[2.45,260,283,243],[2.50,268,250,280],[2.55,240,275,255],[2.60,285,265,251],[2.65,277,257,287],[2.70,247,270,263],[2.75,290,253,273],[2.80,260,283,243],[2.85,268,250,280],[2.90,240,275,255],[2.95,285,265,251],
  [3.00,280,260,290],[3.05,250,273,266],[3.10,293,256,276],[3.15,263,286,246],[3.20,271,253,283],[3.25,243,278,258],[3.30,288,268,254],[3.35,280,260,290],[3.40,250,273,266],[3.45,293,256,276],[3.50,263,286,246],[3.55,271,253,283],[3.60,243,278,258],[3.65,288,268,254],[3.70,280,260,290],[3.75,250,273,266],[3.80,293,256,276],[3.85,263,286,246],[3.90,271,253,283],[3.95,243,278,258],
  [4.00,290,270,256],[4.05,282,262,292],[4.10,252,275,268],[4.15,295,258,278],[4.20,265,288,248],[4.25,273,255,285],[4.30,245,280,260],[4.35,290,270,256],[4.40,282,262,292],[4.45,252,275,268],[4.50,295,258,278],[4.55,265,288,248],[4.60,273,255,285],[4.65,245,280,260],[4.70,290,270,256],[4.75,282,262,292],[4.80,252,275,268],[4.85,295,258,278],[4.90,265,288,248],[4.95,273,255,285],
  [5.00,243,278,258],[5.05,288,268,254],[5.10,280,260,290],[5.15,250,273,266],[5.20,293,256,276],[5.25,263,286,246],[5.30,271,253,283],[5.35,243,278,258],[5.40,288,268,254],[5.45,280,260,290],[5.50,250,273,266],[5.55,293,256,276],[5.60,263,286,246],[5.65,271,253,283],[5.70,243,278,258],[5.75,288,268,254],[5.80,280,260,290],[5.85,250,273,266],[5.90,293,256,276],[5.95,263,286,246],
  [6.00,268,250,280],[6.05,240,275,255],[6.10,285,265,251],[6.15,277,257,287],[6.20,247,270,263],[6.25,290,253,273],[6.30,260,283,243],[6.35,268,250,280],[6.40,240,275,255],[6.45,285,265,251],[6.50,277,257,287],[6.55,247,270,263],[6.60,290,253,273],[6.65,260,283,243],[6.70,268,250,280],[6.75,240,275,255],[6.80,285,265,251],[6.85,277,257,287],[6.90,247,270,263],[6.95,290,253,273],[6.99,260,283,243]
];
const baz37BandHalf = [
  [0.025,252,278],[0.075,268,242],[0.125,246,271],[0.175,282,258],[0.225,238,264],[0.275,273,249],[0.325,259,286],[0.375,252,278],[0.425,268,242],[0.475,246,271],[0.525,282,258],[0.575,238,264],[0.625,273,249],[0.675,259,286],[0.725,252,278],[0.775,268,242],[0.825,246,271],[0.875,282,258],[0.925,238,264],[0.975,273,249],
  [1.025,262,289],[1.075,255,281],[1.125,271,245],[1.175,249,274],[1.225,285,261],[1.275,241,267],[1.325,276,252],[1.375,262,289],[1.425,255,281],[1.475,271,245],[1.525,249,274],[1.575,285,261],[1.625,241,267],[1.675,276,252],[1.725,262,289],[1.775,255,281],[1.825,271,245],[1.875,249,274],[1.925,285,261],[1.975,241,267],
  [2.025,276,252],[2.075,262,289],[2.125,255,281],[2.175,271,245],[2.225,249,274],[2.275,285,261],[2.325,241,267],[2.375,276,252],[2.425,262,289],[2.475,255,281],[2.525,271,245],[2.575,249,274],[2.625,285,261],[2.675,241,267],[2.725,276,252],[2.775,262,289],[2.825,255,281],[2.875,271,245],[2.925,249,274],[2.975,285,261],
  [3.025,244,270],[3.075,279,255],[3.125,265,292],[3.175,258,284],[3.225,274,248],[3.275,252,277],[3.325,288,264],[3.375,244,270],[3.425,279,255],[3.475,265,292],[3.525,258,284],[3.575,274,248],[3.625,252,277],[3.675,288,264],[3.725,244,270],[3.775,279,255],[3.825,265,292],[3.875,258,284],[3.925,274,248],[3.975,252,277],
  [4.025,290,266],[4.075,246,272],[4.125,281,257],[4.175,267,294],[4.225,260,286],[4.275,276,250],[4.325,254,279],[4.375,290,266],[4.425,246,272],[4.475,281,257],[4.525,267,294],[4.575,260,286],[4.625,276,250],[4.675,254,279],[4.725,290,266],[4.775,246,272],[4.825,281,257],[4.875,267,294],[4.925,260,286],[4.975,276,250],
  [5.025,252,277],[5.075,288,264],[5.125,244,270],[5.175,279,255],[5.225,265,292],[5.275,258,284],[5.325,274,248],[5.375,252,277],[5.425,288,264],[5.475,244,270],[5.525,279,255],[5.575,265,292],[5.625,258,284],[5.675,274,248],[5.725,252,277],[5.775,288,264],[5.825,244,270],[5.875,279,255],[5.925,265,292],[5.975,258,284],
  [6.025,271,245],[6.075,249,274],[6.125,285,261],[6.175,241,267],[6.225,276,252],[6.275,262,289],[6.325,255,281],[6.375,271,245],[6.425,249,274],[6.475,285,261],[6.525,241,267],[6.575,276,252],[6.625,262,289],[6.675,255,281],[6.725,271,245],[6.775,249,274],[6.825,285,261],[6.875,241,267],[6.925,276,252],[6.975,262,289]
];
const baz37Other = [
  [0.15,350],[0.20,330],[0.25,310],[0.30,345],[0.40,305],[0.55,340],[0.62,320],[0.70,355],[0.95,330],[1.10,345],[1.20,315],[1.35,350],[1.40,325],[1.55,335],[1.60,302],[1.75,310],[2.20,320],[2.30,350],[2.40,340],[2.45,315],[2.55,355],[2.65,305],[2.80,330],[2.90,310],
  [3.10,303],[3.20,345],[3.35,320],[3.45,355],[3.60,330],[3.70,350],[3.85,315],[4.05,340],[4.20,310],[4.30,330],[4.45,306],[4.55,355],[4.70,325],[4.90,345],[5.10,315],[5.25,304],[5.35,350],[5.40,340],[5.50,355],[5.65,330],[5.90,320],[6.10,345],[6.20,355],[6.35,320],[6.45,335],[6.55,350],[6.60,302],[6.70,325],[6.85,340],[6.95,315],
  [0.15,10],[0.20,25],[0.25,15],[0.30,100],[0.35,85],[0.40,115],[0.45,130],[0.50,100],[0.55,165],[0.55,30],[0.60,120],[0.65,95],[0.70,100],
  [1.05,5],[1.35,120],[1.45,30],[1.50,20],[1.60,15],[1.62,100],[1.65,120],[1.70,20],
  [2.20,15],[2.30,175],[2.35,20],[2.42,30],[2.45,35],[2.50,40],[2.55,25],[2.60,10],[2.60,110],[2.65,5],
  [3.30,10],[3.35,20],[3.40,25],[3.42,5],[3.50,25],[3.55,120],[3.60,110],
  [4.30,35],[4.35,20],[4.40,10],[4.50,180],[4.52,120],[4.55,150],[4.57,5],[4.60,110],
  [5.30,10],[5.35,30],[5.40,45],[5.45,60],[5.45,15],[5.50,75],[5.52,35],[5.55,90],[5.55,20],[5.58,60],[5.60,120],[5.62,125],[5.65,40],[5.70,100],[5.72,10],
  [6.25,25],[6.30,40],[6.35,160],[6.40,130],[6.45,10],[6.47,50],[6.50,15],[6.55,20],[6.60,5],[6.62,30],[6.65,100]
];
const baz53Upper = [
  [0.00,268,252],[0.05,244,262],[0.10,274,256],[0.15,250,270],[0.20,260,242],[0.25,254,272],[0.30,265,247],[0.35,268,252],[0.40,244,262],[0.45,274,256],[0.50,250,270],[0.55,260,242],[0.60,254,272],[0.65,265,247],[0.70,268,252],[0.75,244,262],[0.80,274,256],[0.85,250,270],[0.90,260,242],[0.95,254,272],
  [1.00,262,244],[1.05,265,249],[1.10,241,259],[1.15,271,253],[1.20,247,267],[1.25,257,239],[1.30,251,269],[1.35,262,244],[1.40,265,249],[1.45,241,259],[1.50,271,253],[1.55,247,267],[1.60,257,239],[1.65,251,269],[1.70,262,244],[1.75,265,249],[1.80,241,259],[1.85,271,253],[1.90,247,267],[1.95,257,239],
  [2.00,251,269],[2.05,262,244],[2.10,265,249],[2.15,241,259],[2.20,271,253],[2.25,247,267],[2.30,257,239],[2.35,251,269],[2.40,262,244],[2.45,265,249],[2.50,241,259],[2.55,271,253],[2.60,247,267],[2.65,257,239],[2.70,251,269],[2.75,262,244],[2.80,265,249],[2.85,241,259],[2.90,271,253],[2.95,247,267],
  [3.00,252,234],[3.05,246,264],[3.10,257,239],[3.15,260,244],[3.20,236,254],[3.25,266,248],[3.30,242,262],[3.35,252,234],[3.40,246,264],[3.45,257,239],[3.50,260,244],[3.55,236,254],[3.60,266,248],[3.65,242,262],[3.70,252,234],[3.75,246,264],[3.80,257,239],[3.85,260,244],[3.90,236,254],[3.95,266,248],
  [4.00,247,267],[4.05,257,239],[4.10,251,269],[4.15,262,244],[4.20,265,249],[4.25,241,259],[4.30,271,253],[4.35,247,267],[4.40,257,239],[4.45,251,269],[4.50,262,244],[4.55,265,249],[4.60,241,259],[4.65,271,253],[4.70,247,267],[4.75,257,239],[4.80,251,269],[4.85,262,244],[4.90,265,249],[4.95,241,259],
  [5.00,268,250],[5.05,244,264],[5.10,254,236],[5.15,248,266],[5.20,259,241],[5.25,262,246],[5.30,238,256],[5.35,268,250],[5.40,244,264],[5.45,254,236],[5.50,248,266],[5.55,259,241],[5.60,262,246],[5.65,238,256],[5.70,268,250],[5.75,244,264],[5.80,254,236],
  [5.85,261,270],[5.90,267,257],[5.95,268,260],[6.00,256,265],[6.05,271,262],[6.10,259,269],[6.15,264,255],[6.20,261,270],[6.25,267,257],[6.30,268,260],[6.35,256,265],[6.40,271,262],[6.45,259,269],[6.50,264,255],[6.55,261,270],[6.60,267,257],[6.65,268,260],[6.70,256,265],[6.75,271,262],[6.80,259,269],[6.85,264,255],[6.90,261,270],[6.95,267,257],[6.99,268,260]
];
const baz53UpperHalf = [
  [0.025,273],[0.075,240],[0.125,263],[0.175,249],[0.225,277],[0.275,255],[0.325,244],[0.375,267],[0.425,273],[0.475,240],[0.525,263],[0.575,249],[0.625,277],[0.675,255],[0.725,244],[0.775,267],[0.825,273],[0.875,240],[0.925,263],[0.975,249],
  [1.025,274],[1.075,252],[1.125,241],[1.175,264],[1.225,270],[1.275,237],[1.325,260],[1.375,246],[1.425,274],[1.475,252],[1.525,241],[1.575,264],[1.625,270],[1.675,237],[1.725,260],[1.775,246],[1.825,274],[1.875,252],[1.925,241],[1.975,264],
  [2.025,270],[2.075,237],[2.125,260],[2.175,246],[2.225,274],[2.275,252],[2.325,241],[2.375,264],[2.425,270],[2.475,237],[2.525,260],[2.575,246],[2.625,274],[2.675,252],[2.725,241],[2.775,264],[2.825,270],[2.875,237],[2.925,260],[2.975,246],
  [3.025,269],[3.075,247],[3.125,236],[3.175,259],[3.225,265],[3.275,232],[3.325,255],[3.375,241],[3.425,269],[3.475,247],[3.525,236],[3.575,259],[3.625,265],[3.675,232],[3.725,255],[3.775,241],[3.825,269],[3.875,247],[3.925,236],[3.975,259],
  [4.025,270],[4.075,237],[4.125,260],[4.175,246],[4.225,274],[4.275,252],[4.325,241],[4.375,264],[4.425,270],[4.475,237],[4.525,260],[4.575,246],[4.625,274],[4.675,252],[4.725,241],[4.775,264],[4.825,270],[4.875,237],[4.925,260],[4.975,246],
  [5.025,271],[5.075,249],[5.125,238],[5.175,261],[5.225,267],[5.275,234],[5.325,257],[5.375,243],[5.425,271],[5.475,249],[5.525,238],[5.575,261],[5.625,267],[5.675,234],[5.725,257],[5.775,243],[5.825,271],
  [5.875,268],[5.925,257],[5.975,265],[6.025,260],[6.075,269],[6.125,262],[6.175,258],[6.225,266],[6.275,268],[6.325,257],[6.375,265],[6.425,260],[6.475,269],[6.525,262],[6.575,258],[6.625,266],[6.675,268],[6.725,257],[6.775,265],[6.825,260],[6.875,269],[6.925,262],[6.975,258]
];
const baz53Lower = [
  [0.20,212,196],[0.25,186,200],[0.30,178,162],[0.35,170,150],[0.40,162,146,175],[0.45,140,158,168],[0.50,148,135,160],[0.55,155,142,132],[0.60,160,145,170],[0.65,152,168],[0.70,172,158],[0.75,165,180],[0.80,185,170],[0.85,178,190],
  [1.15,195,180],[1.20,185,170],[1.25,175,162],[1.30,180,166],[1.35,172,160,185],[1.40,168,155],[1.45,175,150],[1.50,165,140,178],[1.55,150,132],[1.60,160,140],[1.65,170,185],[1.70,178,190],[1.75,195,182],
  [2.20,210,195],[2.25,190,176],[2.30,180,165],[2.35,172,160],[2.40,165,150],[2.45,158,145,170],[2.50,150,162],[2.55,155,140],[2.60,165,150],[2.65,170,158],[2.70,175,160],[2.75,180,168],[2.80,190,176],
  [3.20,200,185],[3.25,190,175],[3.30,182,168],[3.35,178,165],[3.40,170,185],[3.45,162,178],[3.50,168,155],[3.55,175,160,188],[3.60,165,180],[3.65,172,158],[3.70,180,165],[3.75,185,170],[3.80,192,178],[3.85,200,186],
  [4.20,205,190],[4.25,195,180],[4.30,188,172],[4.35,180,195],[4.40,175,160,188],[4.45,168,182],[4.50,160,175,150],[4.55,170,185],[4.60,165,150],[4.65,178,162],[4.70,185,170],[4.75,190,175],[4.80,196,182],[4.85,205,190],
  [5.25,200,185],[5.30,190,175],[5.35,180,165],[5.40,170,155],[5.45,160,145],[5.50,150,130],[5.55,120,145],[5.60,100,130,160],[5.65,150,170],[5.70,165,180],[5.75,175,185],[5.80,180,165],[5.85,190,175]
];
const baz53LowerExtra = [
  [0.22,230],[0.27,215],[0.32,195],[0.37,185],[0.42,130],[0.47,185],[0.52,175],[0.57,170],[0.62,135],[0.67,185],[0.72,140],[0.77,195],[0.82,150],[0.87,205],
  [1.17,210],[1.22,160],[1.27,190],[1.32,150],[1.37,140],[1.42,185],[1.47,130],[1.52,190],[1.57,170],[1.62,120],[1.67,150],[1.72,165],[1.77,205],
  [2.22,180],[2.27,205],[2.32,145],[2.37,185],[2.42,135],[2.47,180],[2.52,130],[2.57,170],[2.62,135],[2.67,185],[2.72,145],[2.77,195],[2.82,160],
  [3.22,170],[3.27,205],[3.32,150],[3.37,195],[3.42,150],[3.47,195],[3.52,140],[3.57,145],[3.62,195],[3.67,140],[3.72,195],[3.77,150],[3.82,205],
  [4.22,175],[4.27,210],[4.32,155],[4.37,165],[4.42,200],[4.47,150],[4.52,190],[4.57,140],[4.62,190],[4.67,145],[4.72,200],[4.77,155],[4.82,210],
  [5.27,210],[5.32,160],[5.37,190],[5.42,140],[5.47,170],[5.52,115],[5.57,160],[5.62,145],[5.67,130],[5.72,195],[5.77,150],[5.82,200]
];
const baz53Other = [
  [0.15,230],[0.18,222],[1.05,225],[1.10,215],[1.85,220],[2.10,230],[2.15,222],[2.90,215],[3.10,228],[3.15,218],[3.90,225],[4.10,230],[4.15,215],[4.90,222],[5.20,230],[5.85,225],[5.90,215],
  [0.55,30],[0.60,45],[0.65,20],[0.70,55],[0.75,40],[0.85,25],[0.90,50],[0.95,35],[1.00,30],[1.05,45],[1.10,60],[1.15,40],[1.20,65],[1.25,70],[1.80,25],
  [2.15,50],[2.20,35],[2.35,60],[2.45,55],[2.50,45],[2.55,70],[2.65,50],[2.75,45],
  [3.10,45],[3.20,35],[3.35,40],[3.45,60],[3.50,50],[3.55,70],[3.60,80],[3.65,40],[3.90,25],
  [4.05,30],[4.10,45],[4.20,40],[4.30,45],[4.40,50],[4.50,35],[4.60,55],[4.70,40],[4.80,30],
  [5.00,40],[5.20,25],[5.30,40],[5.35,55],[5.40,60],[5.42,70],[5.45,45],[5.50,65],[5.52,55],[5.55,70],[5.60,50],[5.62,60],[5.65,45],[5.70,35],[5.75,25],[5.80,30],
  [0.50,345],[0.70,335],[1.35,350],[1.60,355],[1.75,310],[2.40,295],[2.50,305],[2.55,280],[3.50,340],[3.55,300],[4.50,345],[4.55,330],[4.90,315],[5.30,340],[5.50,330],
  [6.20,70],[6.50,195],[6.52,185],[6.55,100],[6.60,90],[6.85,75],[0.35,100],[1.80,90],[5.65,120],[5.55,110]
];

// --- BAZ distributions (side panels), counts per bin ---
const bazBins = [10,20,30,40,50,60,70,80,90,100,110,120,130,140,150,160,170,180,190,200,210,220,230,240,250,260,270,280,290,300,310,320,330,340,350];
const side18Black  = [10,12,15,18,20,25,28,32,40,45,120,330,430,300,180,80,28,26,30,32,38,50,48,40,42,48,60,75,65,50,25,12,8,5,2];
const side18Orange = [10,12,14,16,18,20,22,25,30,50,130,235,200,160,90,50,28,25,22,20,20,28,36,30,28,35,50,90,95,80,45,20,8,3,0];
const side18Green  = [8,8,10,12,14,15,16,18,20,25,60,150,178,135,80,35,15,10,10,12,12,10,10,15,20,20,15,12,10,10,9,8,6,4,2];
const side37Black  = [10,36,30,15,8,6,6,6,8,12,22,15,10,8,6,5,5,5,5,6,6,8,12,120,500,440,370,260,130,50,22,44,35,20,8];
const side37Orange = [5,15,12,8,6,5,5,5,6,8,30,10,6,5,5,5,5,5,5,5,6,6,10,40,385,320,250,150,70,30,12,22,20,8,0];
const side37Green  = [10,28,25,10,8,6,6,6,6,8,10,8,6,6,6,6,6,6,6,6,6,8,12,55,100,118,75,45,36,22,18,15,12,8,5];
const side53Black  = [5,10,18,35,60,50,30,22,18,15,16,20,28,45,90,150,190,175,140,90,75,90,130,250,420,360,230,70,25,16,10,8,6,4,2];
const side53Orange = [4,8,14,22,38,40,30,22,18,15,14,14,18,28,40,55,75,90,98,95,95,110,160,200,355,300,190,75,30,15,10,8,6,4,2];
const side53Green  = [5,10,16,20,35,51,45,30,20,16,16,18,20,25,28,25,28,40,75,60,40,45,51,80,157,120,60,20,14,10,8,6,4,3,2];
const sideTicks18 = [0, 250];
const sideTicks37 = [0, 500];
const sideTicks53 = [0, 250];

// --- shared setup ---
Chart.defaults.font.family = "'DejaVu Sans', sans-serif";
Chart.defaults.color = '#000';
const FONT = 17;
const AXIS_BLUE = '#1f5b98';
const LINE_BLUE = 'rgba(45,135,220,0.9)';
const GREY = '#808080';
const DOT = 2;

function toPoints(rows, conv) {
  const pts = [];
  rows.forEach(r => {
    for (let k = 1; k < r.length; k++) pts.push({ x: r[0], y: conv ? conv(r[k]) : r[k] });
  });
  return pts;
}
function fixedTicks(values) {
  return scale => { scale.ticks = values.map(v => ({ value: v })); };
}
// fixed axis box sizes, no automatic label overflow padding
function fixWidth(w) {
  return s => { s.width = w; s.paddingTop = 0; s.paddingBottom = 0; };
}
function fixHeight(h) {
  return s => { s.height = h; s.paddingLeft = 0; s.paddingRight = 0; };
}

const decor = {
  id: 'decor',
  afterDatasetsDraw(chart, args, o) {
    const { ctx, chartArea: a, scales } = chart;
    if (!o.years) return;
    ctx.save();
    ctx.beginPath();
    ctx.rect(a.left, a.top, a.right - a.left, a.bottom - a.top);
    ctx.clip();
    ctx.strokeStyle = o.dashColor || 'rgba(0,0,0,0.8)';
    ctx.lineWidth = o.dashWidth || 1;
    ctx.setLineDash([4, 2.5]);
    o.years.forEach(v => {
      const px = Math.round(scales.x.getPixelForValue(v)) + 0.5;
      ctx.beginPath();
      ctx.moveTo(px, a.top);
      ctx.lineTo(px, a.bottom);
      ctx.stroke();
    });
    ctx.restore();
  },
  afterDraw(chart, args, o) {
    const { ctx, chartArea: a, scales } = chart;
    ctx.save();
    ctx.strokeStyle = '#000';
    if (o.box) {
      ctx.lineWidth = 1.5;
      ctx.strokeRect(a.left, a.top, a.right - a.left, a.bottom - a.top);
    }
    if (o.logMinor) {
      ctx.lineWidth = 1;
      o.logMinor.forEach(v => {
        const py = Math.round(scales.y.getPixelForValue(v)) + 0.5;
        ctx.beginPath();
        ctx.moveTo(a.left - 3.5, py);
        ctx.lineTo(a.left, py);
        ctx.stroke();
      });
    }
    if (o.label) {
      ctx.fillStyle = '#000';
      ctx.font = 'bold 18px "DejaVu Sans"';
      ctx.textAlign = 'left';
      ctx.textBaseline = 'alphabetic';
      ctx.fillText(o.label, a.left + 1, a.bottom - 5);
    }
    if (o.rightTitle) {
      ctx.fillStyle = AXIS_BLUE;
      ctx.font = FONT + 'px "DejaVu Sans"';
      ctx.translate(o.rightTitleX, (a.top + a.bottom) / 2);
      ctx.rotate(-Math.PI / 2);
      ctx.textAlign = 'center';
      ctx.textBaseline = 'middle';
      ctx.fillText(o.rightTitle, 0, 0);
    }
    ctx.restore();
  }
};

function xScale(height, title) {
  return {
    type: 'linear', min: 0, max: 7,
    afterBuildTicks: fixedTicks(yearTicks),
    afterFit: fixHeight(height),
    ticks: { callback: (v, i) => yearLabels[i], font: { size: FONT }, padding: 2, maxRotation: 0, autoSkip: false },
    grid: { drawOnChartArea: false, tickLength: 6, tickWidth: 1.5, tickColor: '#000' },
    border: { color: '#000', width: 1.5 },
    title: title ? { display: true, text: title, font: { size: FONT }, padding: { top: 2, bottom: 0 } } : { display: false }
  };
}

// --- amplitude panels ---
function ampChart(id, rowSets, station, dashWidth) {
  const pts = [].concat(...rowSets.map(r => toPoints(r, v => Math.pow(10, v))));
  new Chart(document.getElementById(id), {
    type: 'scatter',
    data: {
      datasets: [
        { label: 'U', data: toPoints(uWind), yAxisID: 'u', showLine: true, pointRadius: 0, borderColor: LINE_BLUE, borderWidth: 2, order: 0 },
        { label: 'Amp', data: pts, yAxisID: 'y', pointRadius: DOT, pointBackgroundColor: GREY, pointBorderWidth: 0, order: 1 }
      ]
    },
    options: {
      responsive: false, animation: false, devicePixelRatio: 1,
      layout: { autoPadding: false, padding: { top: 9, left: 0, right: 0, bottom: 0 } },
      plugins: {
        legend: { display: false }, tooltip: { enabled: false },
        decor: { years: dashedYears, dashWidth: dashWidth, dashColor: dashWidth > 1 ? '#000' : null, box: true, label: station, logMinor: ampMinorTicks, rightTitle: 'U (m/s)', rightTitleX: 582 }
      },
      scales: {
        x: xScale(39),
        y: {
          type: 'logarithmic', position: 'left', min: 0.001, max: 2.7,
          afterBuildTicks: fixedTicks(ampTicks),
          afterFit: fixWidth(97),
          ticks: { callback: (v, i) => ampTickLabels[i], font: { size: FONT }, padding: 3, autoSkip: false },
          grid: { drawOnChartArea: false, tickLength: 6, tickWidth: 1.5, tickColor: '#000' },
          border: { color: '#000', width: 1.5 },
          title: { display: true, text: 'Amp (Pa)', font: { size: FONT }, padding: { top: 8, bottom: 0 } }
        },
        u: {
          axis: 'y', type: 'linear', position: 'right', min: -56, max: 78,
          afterBuildTicks: fixedTicks(uTicks),
          afterFit: fixWidth(136),
          ticks: { callback: v => (v < 0 ? '−' + Math.abs(v) : String(v)), color: AXIS_BLUE, font: { size: FONT }, padding: 8, autoSkip: false },
          grid: { drawOnChartArea: false, tickLength: 6, tickWidth: 1.5, tickColor: AXIS_BLUE },
          border: { color: '#000', width: 1.5 }
        }
      }
    },
    plugins: [decor]
  });
}

// --- BAZ panels ---
function bazChart(id, rowSets, station, xHeight, xTitle) {
  const pts = [].concat(...rowSets.map(r => toPoints(r)));
  new Chart(document.getElementById(id), {
    type: 'scatter',
    data: { datasets: [{ label: 'BAZ', data: pts, pointRadius: DOT, pointBackgroundColor: GREY, pointBorderWidth: 0 }] },
    options: {
      responsive: false, animation: false, devicePixelRatio: 1,
      layout: { autoPadding: false, padding: { top: 9, left: 0, right: 136, bottom: 0 } },
      plugins: {
        legend: { display: false }, tooltip: { enabled: false },
        decor: { years: dashedYears, box: true, label: station }
      },
      scales: {
        x: xScale(xHeight, xTitle),
        y: {
          type: 'linear', position: 'left', min: 0, max: 360,
          afterBuildTicks: fixedTicks(bazTicks),
          afterFit: fixWidth(97),
          ticks: { callback: (v, i) => bazTickLabels[i], font: { size: FONT }, padding: 3, autoSkip: false },
          grid: { drawOnChartArea: false, tickLength: 6, tickWidth: 1.5, tickColor: '#000' },
          border: { color: '#000', width: 1.5 },
          title: { display: true, text: 'BAZ ( ° )', font: { size: FONT }, padding: { top: 16, bottom: 0 } }
        }
      }
    },
    plugins: [decor]
  });
}

function sideChart(id, black, orange, green, xmin, xmax, ticks) {
  const curve = (vals, color, order) => ({
    data: bazBins.map((b, i) => ({ x: vals[i], y: b })),
    showLine: true, pointRadius: 0, borderColor: color, borderWidth: 1.7, order: order
  });
  new Chart(document.getElementById(id), {
    type: 'scatter',
    data: { datasets: [curve(green, '#008000', 0), curve(orange, '#ffa500', 1), curve(black, '#000000', 2)] },
    options: {
      responsive: false, animation: false, devicePixelRatio: 1,
      layout: { autoPadding: false, padding: { top: 9, left: 28, right: 15, bottom: 0 } },
      plugins: { legend: { display: false }, tooltip: { enabled: false } },
      scales: {
        x: {
          type: 'linear', min: xmin, max: xmax,
          afterBuildTicks: fixedTicks(ticks),
          afterFit: fixHeight(39),
          ticks: { font: { size: FONT }, padding: 2, maxRotation: 0, autoSkip: false },
          grid: { drawOnChartArea: false, tickLength: 6, tickWidth: 1.5, tickColor: '#000' },
          border: { color: '#000', width: 1.5 }
        },
        y: {
          type: 'linear', min: 0, max: 360,
          afterFit: fixWidth(0),
          ticks: { display: false },
          grid: { drawOnChartArea: false, drawTicks: false },
          border: { color: '#000', width: 1.5 }
        }
      }
    }
  });
}

ampChart('amp18', [amp18Log, amp18LogHalf], stations[0], 1);
bazChart('baz18', [baz18Band, baz18BandHalf, baz18Other], stations[0], 39);
sideChart('side18', side18Black, side18Orange, side18Green, -21, 455, sideTicks18);

ampChart('amp37', [amp37Log, amp37LogHalf], stations[1], 2);
bazChart('baz37', [baz37Band, baz37BandHalf, baz37Other], stations[1], 39);
sideChart('side37', side37Black, side37Orange, side37Green, -25, 525, sideTicks37);

ampChart('amp53', [amp53Log, amp53LogHalf], stations[2], 2);
bazChart('baz53', [baz53Upper, baz53UpperHalf, baz53Lower, baz53LowerExtra, baz53Other], stations[2], 61, 'Time');
sideChart('side53', side53Black, side53Orange, side53Green, -21, 445, sideTicks53);
</script>
</body>
</html>
